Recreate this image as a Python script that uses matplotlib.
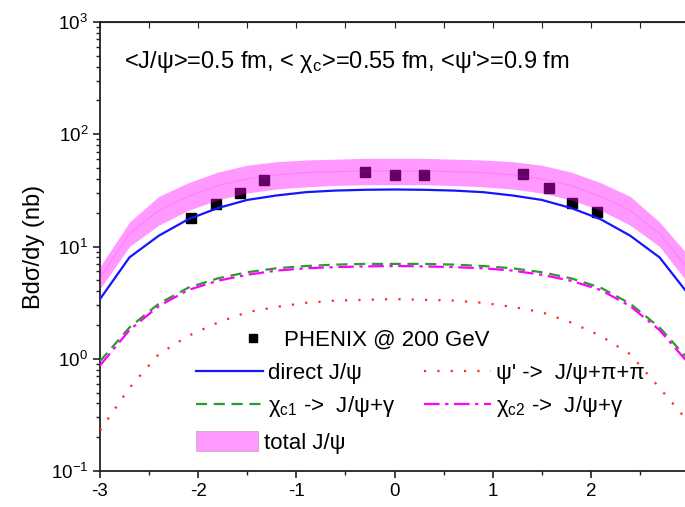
import numpy as np
import matplotlib.pyplot as plt
from matplotlib.lines import Line2D
from matplotlib.patches import Patch
from matplotlib.ticker import MultipleLocator, FixedLocator, LogLocator, NullFormatter

plt.rcParams['font.family'] = ['Liberation Sans', 'DejaVu Sans']
plt.rcParams['mathtext.fontset'] = 'custom'
plt.rcParams['mathtext.rm'] = 'Liberation Sans'
plt.rcParams['mathtext.it'] = 'Liberation Sans:italic'
plt.rcParams['mathtext.bf'] = 'Liberation Sans:bold'
plt.rcParams['mathtext.default'] = 'regular'
plt.rcParams['axes.unicode_minus'] = False

# rapidity grid of the model curves
rap = [-3.0, -2.7, -2.4, -2.1, -1.8, -1.5, -1.2, -0.9, -0.6, -0.3, 0.0,
       0.3, 0.6, 0.9, 1.2, 1.5, 1.8, 2.1, 2.4, 2.7, 3.0]
direct = [3.4, 8.0, 12.5, 17.5, 22.0, 26.0, 28.5, 30.5, 31.5, 32.0, 32.2,
          32.0, 31.5, 30.5, 28.5, 26.0, 22.0, 17.5, 12.5, 8.0, 3.7]
chi_c1 = [0.95, 1.9, 3.1, 4.3, 5.2, 5.9, 6.4, 6.7, 6.9, 7.0, 7.0,
          7.0, 6.9, 6.7, 6.4, 5.9, 5.2, 4.3, 3.1, 1.9, 0.97]
chi_c2 = [0.87, 1.8, 2.95, 4.1, 4.95, 5.6, 6.1, 6.4, 6.55, 6.65, 6.7,
          6.65, 6.55, 6.4, 6.1, 5.6, 4.95, 4.1, 2.95, 1.8, 0.9]
psi2s = [0.23, 0.55, 1.1, 1.6, 2.1, 2.6, 2.9, 3.15, 3.3, 3.35, 3.4,
         3.35, 3.3, 3.15, 2.9, 2.6, 2.1, 1.6, 1.1, 0.55, 0.27]
total_lo = [4.2, 10.0, 15.5, 21.0, 26.0, 30.0, 32.5, 34.0, 35.0, 35.5, 35.5,
            35.5, 35.0, 34.0, 32.5, 30.0, 26.0, 21.0, 15.5, 10.0, 4.6]
total_mid = [5.3, 13.0, 21.0, 28.0, 35.0, 40.0, 43.5, 45.5, 46.5, 47.0, 47.0,
             47.0, 46.5, 45.5, 43.5, 40.0, 35.0, 28.0, 21.0, 13.0, 6.2]
total_hi = [6.6, 16.5, 28.0, 37.0, 46.0, 53.0, 57.0, 59.0, 60.0, 61.0, 61.0,
            61.0, 60.0, 59.0, 57.0, 53.0, 46.0, 37.0, 28.0, 16.5, 8.2]

# PHENIX p+p data
phx_y = [-2.07, -1.82, -1.57, -1.33, -0.30, 0.0, 0.30, 1.31, 1.57, 1.81, 2.06]
phx_v = [18.0, 23.7, 30.0, 39.0, 46.0, 43.0, 43.0, 44.5, 33.0, 24.2, 20.3]

xticks = [-3, -2, -1, 0, 1, 2]

fig = plt.figure(figsize=(6.85, 5.07), dpi=100)
ax = fig.add_axes([100/685, 1-471/507, 589/685, 449/507])

ax.plot(phx_y, phx_v, 's', color='black', ms=6.5, zorder=2)
ax.fill_between(rap, total_lo, total_hi, color='#ff00ff', alpha=0.4, lw=0, zorder=3)
ax.plot(rap, total_mid, color='#ff00ff', alpha=0.15, lw=1, zorder=3)
l_dir, = ax.plot(rap, direct, color='#1515ff', lw=1.6, zorder=4)
l_c1, = ax.plot(rap, chi_c1, color='#2e9a2e', lw=1.6, dashes=(5, 3), zorder=4)
l_c2, = ax.plot(rap, chi_c2, color='#ff00ff', lw=1.6, dashes=(7, 2.5, 1.5, 2.5), zorder=4)
l_psi, = ax.plot(rap, psi2s, color='#ff2a2a', lw=1.6, dashes=(1, 5), zorder=4)

ax.set_yscale('log')
ax.set_xlim(-3, 3)
ax.set_ylim(0.1, 1000)
ax.xaxis.set_major_locator(FixedLocator(xticks))
ax.xaxis.set_minor_locator(MultipleLocator(0.5))
ax.yaxis.set_major_locator(LogLocator(base=10))
ax.yaxis.set_minor_locator(LogLocator(base=10, subs=np.arange(2, 10)))
ax.yaxis.set_minor_formatter(NullFormatter())
ax.tick_params(which='both', direction='out', labelsize=13.5, color='#222222')
ax.tick_params(which='major', length=5, width=1.2)
ax.tick_params(which='minor', length=3, width=1)
for s in ax.spines.values():
    s.set_linewidth(1.3)
    s.set_color('#222222')

top = ax.secondary_xaxis('top')
top.xaxis.set_major_locator(MultipleLocator(0.5))
top.tick_params(direction='in', length=4, labeltop=False, color='#222222')
right = ax.secondary_yaxis('right')
right.yaxis.set_major_locator(LogLocator(base=10, subs=np.arange(1, 10)))
right.yaxis.set_minor_formatter(NullFormatter())
right.tick_params(direction='in', length=3, labelright=False, color='#222222')
right.tick_params(which='minor', length=0)

ax.set_ylabel('Bdσ/dy (nb)', fontsize=17, labelpad=4)

ax.text(0.04, 0.912, "<J/ψ>=0.5 fm, < χ$_c$>=0.55 fm, <ψ'>=0.9 fm",
        transform=ax.transAxes, fontsize=17, va='center', ha='left')

h_phx = Line2D([], [], ls='none', marker='s', color='black', ms=6)
leg1 = ax.legend([h_phx], ['PHENIX @ 200 GeV'], loc='upper left',
                 bbox_to_anchor=(0.23, 0.315), frameon=False, fontsize=16,
                 handlelength=1.6, handletextpad=0.6, borderpad=0, borderaxespad=0)
ax.add_artist(leg1)
leg2 = ax.legend([l_dir, l_c1, l_psi, l_c2],
                 ['direct J/ψ', 'χ$_{c1}$ ->  J/ψ+γ', "ψ' ->  J/ψ+π+π", 'χ$_{c2}$ ->  J/ψ+γ'],
                 ncol=2, loc='upper left', bbox_to_anchor=(0.163, 0.24),
                 frameon=False, fontsize=16, handlelength=3.0, handletextpad=0.25,
                 columnspacing=1.3, labelspacing=0.45, borderpad=0, borderaxespad=0)
ax.add_artist(leg2)
h_tot = Patch(facecolor='#ff00ff', alpha=0.4, edgecolor='#888888', lw=0.8)
leg3 = ax.legend([h_tot], ['total J/ψ'], loc='upper left', bbox_to_anchor=(0.163, 0.088),
                 frameon=False, fontsize=16, handlelength=2.8, handleheight=1.0,
                 handletextpad=0.25, borderpad=0, borderaxespad=0)

fig.savefig('out.png', dpi=100)
